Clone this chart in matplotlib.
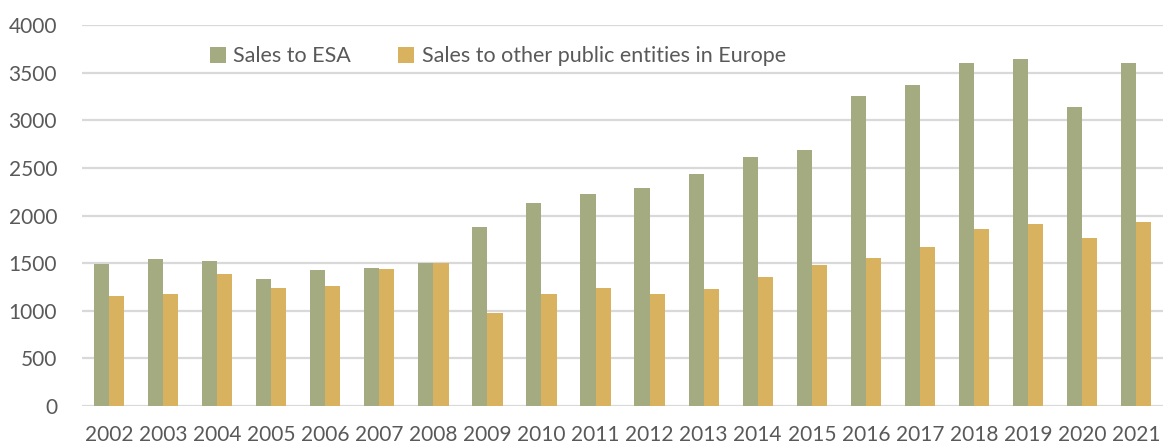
import matplotlib
matplotlib.use("Agg")
import matplotlib.pyplot as plt
import numpy as np

years = [str(y) for y in range(2002, 2022)]
sales_esa = [1489, 1545, 1524, 1335, 1433, 1450, 1503, 1881, 2133, 2224,
             2294, 2434, 2616, 2686, 3254, 3373, 3604, 3646, 3135, 3597]
sales_other = [1156, 1173, 1384, 1236, 1264, 1440, 1503, 981, 1173, 1243,
               1173, 1229, 1356, 1482, 1552, 1671, 1860, 1909, 1762, 1937]
series_names = ["Sales to ESA", "Sales to other public entities in Europe"]

plt.rcParams['font.family'] = ['Lato', 'DejaVu Sans']
txt = '#595959'
green = '#A5AB80'
orange = '#D8B25E'

fig = plt.figure(figsize=(11.65, 4.46), dpi=100)
ax = fig.add_axes([0.0704, 0.0897, 0.928, 0.854])

x = np.arange(len(years))
w = 0.28
ax.bar(x - w/2, sales_esa, w, color=green, label=series_names[0], zorder=3)
ax.bar(x + w/2, sales_other, w, color=orange, label=series_names[1], zorder=3)

ax.set_ylim(0, 4000)
ax.set_xlim(-0.5, len(years) - 0.5)
ax.set_yticks(range(0, 4001, 500))
ax.set_xticks(x)
ax.set_xticklabels(years)
ax.grid(axis='y', color='#D9D9D9', linewidth=1.6, zorder=0)
ax.tick_params(axis='both', length=0, labelsize=15, colors=txt)
ax.tick_params(axis='x', pad=14)
ax.tick_params(axis='y', pad=18)
for s in ax.spines.values():
    s.set_visible(False)

leg = ax.legend(loc='upper left', bbox_to_anchor=(0.1, 0.995), ncol=2, frameon=False,
                fontsize=15.5, handlelength=0.75, handleheight=0.75, handletextpad=0.35,
                columnspacing=2.2, labelcolor=txt)

fig.savefig('out.png', dpi=100)
